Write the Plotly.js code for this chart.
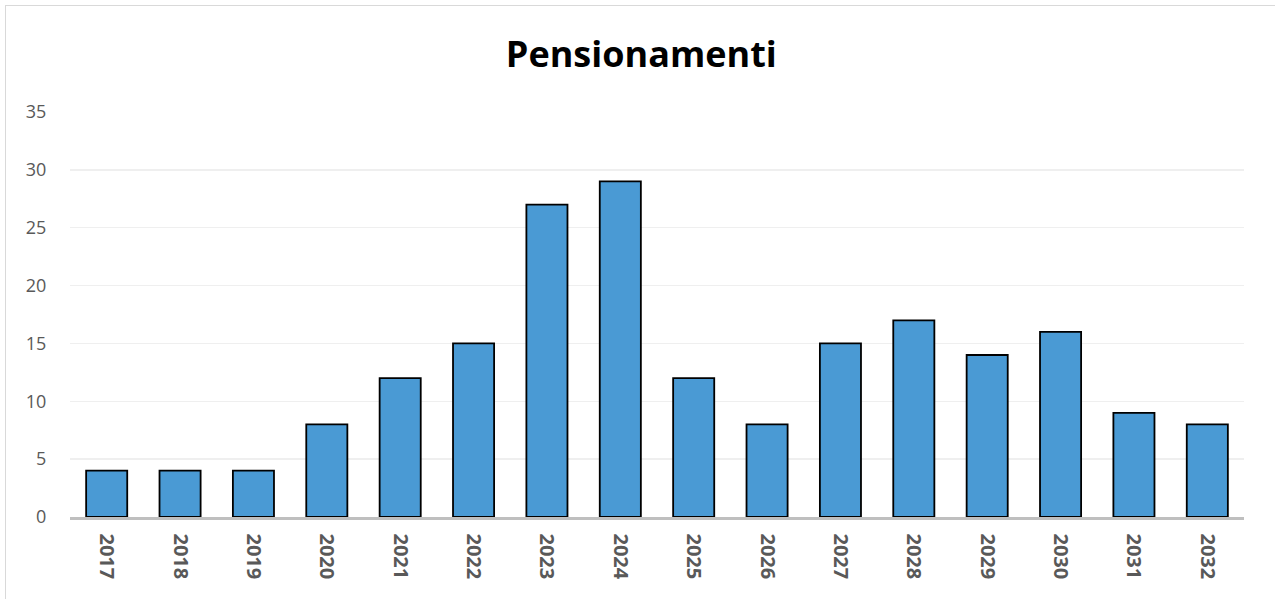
<!DOCTYPE html>
<html>
<head>
<meta charset="utf-8">
<script src="https://cdn.plot.ly/plotly-3.0.1.min.js"></script>
<style>
html,body{margin:0;padding:0;background:#fff;overflow:hidden;}
#chart{position:absolute;left:0;top:0;width:1275px;height:599px;}
#frame{position:absolute;left:5px;top:5px;width:1290px;height:620px;border:1px solid #d9d9d9;box-sizing:border-box;pointer-events:none;}
</style>
</head>
<body>
<div id="chart"></div>
<div id="frame"></div>
<script>
const years = ['2017','2018','2019','2020','2021','2022','2023','2024','2025','2026','2027','2028','2029','2030','2031','2032'];
const pensionamenti = [4,4,4,8,12,15,27,29,12,8,15,17,14,16,9,8];
const yTicks = [0,5,10,15,20,25,30,35];

const trace = {
  type: 'bar',
  x: years,
  y: pensionamenti,
  marker: {color: '#4a9ad4', line: {color: '#000000', width: 1.8}},
  hoverinfo: 'x+y'
};

const layout = {
  width: 1275, height: 599,
  margin: {l: 70, r: 31, t: 112, b: 82},
  paper_bgcolor: 'rgba(0,0,0,0)',
  plot_bgcolor: 'rgba(0,0,0,0)',
  bargap: 0.44,
  showlegend: false,
  title: {text: '<b>Pensionamenti</b>', x: 0.503, xanchor: 'center', y: 0.91, yanchor: 'middle',
          font: {family: 'Open Sans, sans-serif', size: 36, color: '#000000'}},
  font: {family: 'Open Sans, sans-serif', color: '#595959'},
  xaxis: {
    type: 'category',
    tickangle: 90,
    tickfont: {size: 20, color: '#595959', family: 'Open Sans, sans-serif', weight: 'bold'},
    showgrid: false,
    showline: true, linecolor: '#bfbfbf', linewidth: 2.5,
    ticks: 'outside', ticklen: 10, tickcolor: 'rgba(0,0,0,0)',
    zeroline: false
  },
  yaxis: {
    range: [0, 35],
    tickvals: yTicks,
    ticktext: yTicks.map(String),
    tickfont: {size: 18, color: '#595959', family: 'Open Sans, sans-serif'},
    showgrid: true, gridcolor: '#efefef', gridwidth: 1.5,
    zeroline: false,
    showline: false,
    ticks: 'outside', tickcolor: 'rgba(0,0,0,0)', ticklen: 19
  }
};

Plotly.newPlot('chart', [trace], layout, {displayModeBar: false, staticPlot: true});
</script>
</body>
</html>
